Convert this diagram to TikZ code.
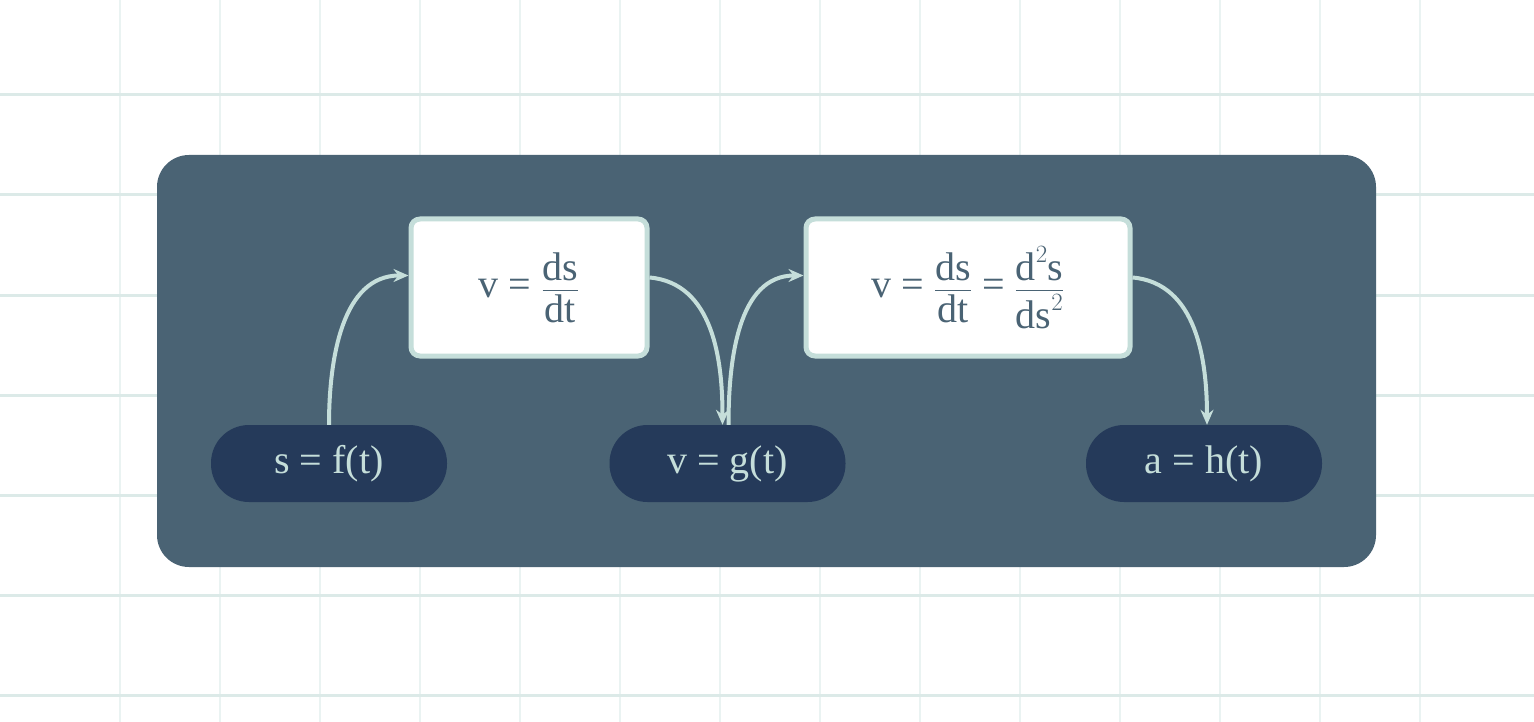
\documentclass[tikz,border=0pt]{standalone}
\usepackage{fontspec}
\usepackage{amsmath}
\setmainfont{Liberation Serif}
\usetikzlibrary{arrows.meta}
\definecolor{panel}{HTML}{4A6374}
\definecolor{pill}{HTML}{253A5A}
\definecolor{pale}{HTML}{C5DEDA}
\definecolor{gridv}{HTML}{EAF3F2}
\definecolor{gridh}{HTML}{DCEAE8}
\tikzset{
  pillbox/.style={fill=pill,text=pale,minimum width=236pt,minimum height=77pt,rounded corners=38pt,font=\fontsize{40}{48}\selectfont,inner sep=0pt},
  eqbox/.style={fill=white,draw=pale,line width=5pt,rounded corners=9pt,text=panel,font=\fontsize{40}{48}\selectfont,inner sep=0pt},
  link/.style={draw=pale,line width=4pt,-{Stealth[length=15pt,width=13pt]}}
}
\begin{document}
\begin{tikzpicture}[x=1pt,y=-1pt]
\useasboundingbox (0,0) rectangle (1534,722);
\fill[white] (0,0) rectangle (1534,722);
\foreach \x in {120,220,...,1420} \draw[gridv,line width=2.5pt] (\x,0) -- (\x,722);
\foreach \y in {95,195,...,695} \draw[gridh,line width=3pt] (0,\y) -- (1534,\y);
\fill[panel,rounded corners=32pt] (157,155) rectangle (1376,567);
\node[eqbox,minimum width=236pt,minimum height=137pt] (b1) at (529,287.5) {$\text{v = }\displaystyle\frac{\text{ds}}{\text{dt}}$};
\node[eqbox,minimum width=324pt,minimum height=137pt] (b2) at (968,287.5) {$\text{v = }\displaystyle\frac{\text{ds}}{\text{dt}}\text{ = }\frac{\text{d}^2\text{s}}{\text{ds}^2}$};
\node[pillbox] (p1) at (329,463.5) {s = f(t)};
\node[pillbox] (p2) at (727.5,463.5) {v = g(t)};
\node[pillbox] (p3) at (1204,463.5) {a = h(t)};
\draw[link] (p1.north) to[out=90,in=180] ([yshift=12pt]b1.west);
\draw[link] ([yshift=10pt]b1.east) to[out=-5,in=90] ([xshift=-5pt]p2.north);
\draw[link] ([xshift=1pt]p2.north) to[out=90,in=180] ([yshift=12pt]b2.west);
\draw[link] ([yshift=10pt]b2.east) to[out=-5,in=90] ([xshift=3pt]p3.north);
\end{tikzpicture}
\end{document}
